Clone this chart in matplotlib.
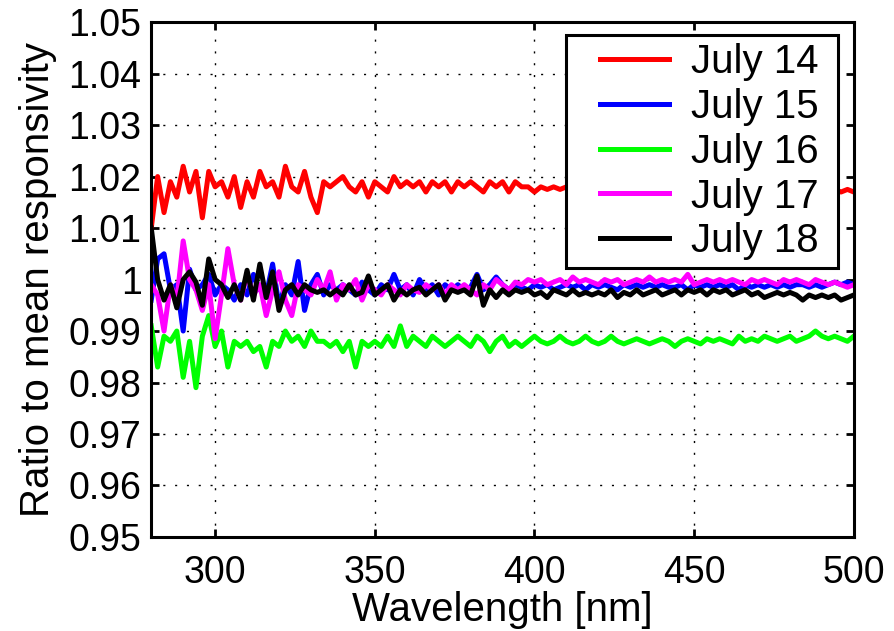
import numpy as np
import matplotlib
matplotlib.use('Agg')
import matplotlib.pyplot as plt
from matplotlib.ticker import FormatStrFormatter

plt.rcParams['font.family'] = ['Liberation Sans', 'DejaVu Sans']

# wavelength grid [nm]
wavelength = np.arange(280, 501, 2)

july14 = [1.010, 1.020, 1.013, 1.019, 1.016, 1.022, 1.017, 1.021, 1.012, 1.021,
          1.018, 1.019, 1.016, 1.020, 1.014, 1.019, 1.016, 1.021, 1.018, 1.019,
          1.016, 1.022, 1.018, 1.017, 1.021, 1.016, 1.013, 1.019, 1.018, 1.019,
          1.020, 1.018, 1.017, 1.019, 1.016, 1.019, 1.018, 1.017, 1.020, 1.018,
          1.019, 1.018, 1.019, 1.017, 1.019, 1.018, 1.019, 1.017, 1.019, 1.018,
          1.019, 1.018, 1.017, 1.019, 1.018, 1.019, 1.017, 1.019, 1.018, 1.018,
          1.017, 1.018, 1.0175, 1.018, 1.0175, 1.018, 1.018, 1.0185, 1.018, 1.0185,
          1.018, 1.0185, 1.018, 1.018, 1.0185, 1.018, 1.018, 1.0185, 1.018, 1.018,
          1.0175, 1.018, 1.018, 1.0185, 1.018, 1.0175, 1.018, 1.018, 1.0185, 1.018,
          1.018, 1.0175, 1.018, 1.018, 1.0175, 1.018, 1.018, 1.0175, 1.018, 1.0175,
          1.018, 1.0175, 1.018, 1.0175, 1.0175, 1.018, 1.0175, 1.0175, 1.017, 1.0175,
          1.017]

july15 = [0.996, 1.004, 1.005, 0.998, 0.999, 0.990, 1.002, 0.998, 0.999, 1.001,
          0.997, 0.999, 0.998, 0.996, 0.999, 0.997, 1.001, 0.998, 0.997, 1.003,
          0.995, 0.999, 0.997, 1.0035, 0.994, 0.999, 1.001, 0.997, 0.999, 0.998,
          0.999, 0.998, 0.997, 0.9995, 0.998, 0.997, 0.999, 0.998, 1.001, 0.998,
          0.999, 0.997, 1.000, 0.998, 0.999, 0.997, 0.999, 0.998, 0.999, 0.998,
          0.9985, 1.001, 0.998, 0.999, 1.0005, 0.999, 0.998, 0.999, 0.9985, 0.998,
          0.999, 0.9985, 0.999, 0.998, 0.9985, 0.999, 0.9985, 0.999, 0.998, 0.999,
          0.9985, 0.999, 0.9985, 0.998, 0.999, 0.9985, 0.999, 0.9985, 0.999, 0.9985,
          0.999, 0.9985, 0.9985, 0.999, 0.998, 0.999, 0.9985, 0.999, 0.9985, 0.999,
          0.9985, 0.999, 0.998, 0.999, 0.9985, 0.999, 0.9985, 0.999, 0.9985, 0.999,
          0.9985, 0.999, 0.999, 0.9985, 0.999, 0.9985, 0.999, 0.9995, 0.999, 0.9995,
          0.999]

july16 = [0.991, 0.983, 0.989, 0.988, 0.990, 0.981, 0.988, 0.979, 0.989, 0.993,
          0.987, 0.990, 0.983, 0.988, 0.987, 0.988, 0.986, 0.987, 0.983, 0.988,
          0.987, 0.990, 0.988, 0.989, 0.987, 0.990, 0.988, 0.988, 0.987, 0.988,
          0.986, 0.988, 0.983, 0.988, 0.987, 0.988, 0.987, 0.989, 0.987, 0.991,
          0.987, 0.989, 0.988, 0.987, 0.989, 0.988, 0.987, 0.988, 0.989, 0.988,
          0.987, 0.989, 0.988, 0.986, 0.988, 0.989, 0.987, 0.988, 0.987, 0.988,
          0.989, 0.988, 0.9875, 0.988, 0.989, 0.988, 0.9875, 0.988, 0.989, 0.988,
          0.9875, 0.988, 0.989, 0.988, 0.9875, 0.988, 0.9885, 0.988, 0.9875, 0.988,
          0.9885, 0.988, 0.987, 0.988, 0.9885, 0.988, 0.9875, 0.9885, 0.988, 0.9885,
          0.988, 0.9875, 0.989, 0.988, 0.9885, 0.988, 0.989, 0.9885, 0.988, 0.9885,
          0.989, 0.988, 0.9885, 0.989, 0.990, 0.989, 0.9885, 0.989, 0.9885, 0.988,
          0.989]

july17 = [0.999, 0.997, 0.990, 0.999, 0.996, 1.0075, 1.000, 0.998, 0.994, 0.999,
          0.9885, 0.997, 1.006, 0.999, 0.996, 1.001, 0.997, 0.999, 0.993, 0.998,
          1.0015, 0.996, 0.993, 0.999, 0.998, 0.997, 1.000, 0.998, 1.0015, 0.996,
          0.999, 0.998, 1.000, 0.996, 0.999, 0.998, 0.997, 0.999, 0.998, 0.997,
          0.999, 0.998, 0.9975, 0.999, 0.998, 0.999, 0.997, 0.999, 0.998, 0.999,
          0.998, 0.997, 0.999, 0.998, 1.000, 0.999, 0.998, 0.9995, 0.999, 1.000,
          0.9995, 1.000, 0.999, 0.9995, 1.000, 0.999, 1.0005, 0.9995, 1.000, 0.9995,
          0.999, 1.000, 0.9995, 1.000, 0.999, 0.9995, 1.000, 0.9995, 1.0005, 0.9995,
          1.000, 0.9995, 1.000, 0.9995, 1.001, 0.999, 0.9995, 1.000, 0.9995, 1.000,
          0.9995, 1.000, 0.9995, 0.999, 1.000, 0.9995, 1.000, 0.9995, 0.999, 1.000,
          0.9995, 1.000, 0.9995, 0.999, 1.000, 0.9995, 0.999, 0.9995, 0.999, 0.9985,
          0.999]

july18 = [1.010, 1.000, 0.996, 0.999, 0.9945, 1.000, 1.0015, 0.9995, 0.995, 1.004,
          1.000, 0.999, 0.9965, 0.999, 0.996, 1.0018, 0.996, 1.003, 0.9965, 1.0015,
          0.994, 0.998, 0.999, 0.997, 0.999, 0.998, 0.9975, 0.998, 0.997, 0.998,
          0.997, 0.999, 0.997, 0.9975, 1.0007, 0.997, 0.998, 0.999, 0.996, 0.998,
          0.997, 0.998, 0.9985, 0.997, 0.998, 0.999, 0.996, 0.998, 0.9975, 0.998,
          0.997, 1.0007, 0.995, 0.998, 0.9965, 0.998, 0.997, 0.998, 0.9975, 0.998,
          0.997, 0.9975, 0.9965, 0.998, 0.9975, 0.997, 0.998, 0.997, 0.9975, 0.997,
          0.9975, 0.997, 0.998, 0.9965, 0.9975, 0.997, 0.998, 0.997, 0.9975, 0.998,
          0.997, 0.9975, 0.998, 0.997, 0.998, 0.9975, 0.998, 0.997, 0.998, 0.9975,
          0.998, 0.997, 0.9975, 0.998, 0.997, 0.9975, 0.9965, 0.997, 0.9975, 0.997,
          0.9975, 0.997, 0.996, 0.997, 0.9965, 0.997, 0.9965, 0.997, 0.996, 0.9965,
          0.997]

series = [july14, july15, july16, july17, july18]
labels = ['July 14', 'July 15', 'July 16', 'July 17', 'July 18']
colors = ['#ff0000', '#0000ff', '#00ff00', '#ff00ff', '#000000']

fig = plt.figure(figsize=(8.95, 6.31), dpi=100)
ax = fig.add_axes([0.169, 0.149, 0.785, 0.816])

for vals, lab, col in zip(series, labels, colors):
    # trailing space keeps the right margin of the legend box
    ax.plot(wavelength, vals, color=col, linewidth=3.6, label=lab + ' ')

ax.set_xlim(280, 500)
ax.set_ylim(0.95, 1.05)
ax.set_xticks([300, 350, 400, 450, 500])
ax.set_yticks(np.round(np.arange(0.95, 1.0501, 0.01), 2))
ax.yaxis.set_major_formatter(FormatStrFormatter('%g'))
ax.grid(True, color='black', linestyle=(0, (1.5, 7)), linewidth=1.0)
ax.tick_params(direction='in', length=6, width=2, labelsize=27, top=True, right=True)
ax.tick_params(axis='x', pad=13)
ax.tick_params(axis='y', pad=7)
for sp in ax.spines.values():
    sp.set_linewidth(2.2)

ax.set_xlabel('Wavelength [nm]', fontsize=29, labelpad=0)
ax.set_ylabel('Ratio to mean responsivity', fontsize=29, labelpad=8)

leg = ax.legend(loc='upper right', fontsize=29, handlelength=2.36, handletextpad=0.55,
                labelspacing=0.17, borderpad=0.2, fancybox=False, framealpha=1,
                bbox_to_anchor=(0.977, 0.975), borderaxespad=0)
leg.get_frame().set_edgecolor('black')
leg.get_frame().set_linewidth(2.2)
# shorter legend lines, leaving a wider gap on the left like the original
for line in leg.get_lines():
    line.set_linewidth(3.6)
    xd = np.asarray(line.get_xdata(), dtype=float)
    line.set_xdata(np.linspace(xd[0] + 0.28 * (xd[-1] - xd[0]), xd[-1], len(xd)))

fig.savefig('out.png', dpi=100)
